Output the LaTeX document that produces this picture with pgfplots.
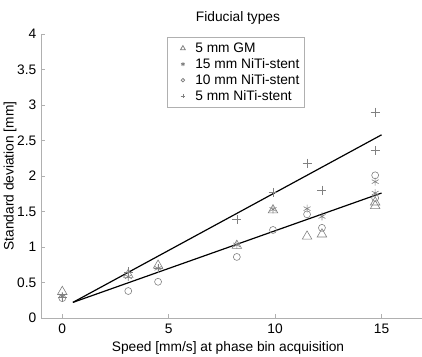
\documentclass[border=0pt]{standalone}
\usepackage{pgfplots}
\pgfplotsset{compat=1.18}
\usepackage{fontspec}
\setmainfont{Liberation Sans}
\definecolor{mk}{HTML}{808080}
\definecolor{ax}{HTML}{B0B0B0}
\begin{document}
\fontsize{13.8}{16.5}\selectfont
\begin{tikzpicture}
\pgfplotsset{lg/.style={legend image code/.code={\draw[mark options={scale=0.5}] plot coordinates {(12bp,0bp)}; \path (0bp,0bp) (22bp,0bp);}}}
\begin{axis}[name=ax,
  scale only axis, width=381bp, height=284bp,
  xmin=-1, xmax=16.9, ymin=0, ymax=4,
  axis x line*=bottom, axis y line*=left,
  axis line style={ax, line width=0.8pt, -},
  xtick={0,5,10,15}, ytick={0,0.5,...,4},
  yticklabels={0,0.5,1,1.5,2,2.5,3,3.5,4},
  tick align=inside, major tick length=4bp,
  tick style={ax, line width=0.8pt},
  /pgf/number format/assume math mode=true,
  ticklabel style={font=\fontsize{13.8}{16.5}\selectfont},
  xticklabel style={yshift=-1bp},
  clip=false,
  legend style={at={(0.331,0.989)}, anchor=north west, draw=ax, line width=0.8pt,
    font=\fontsize{13.8}{16.5}\selectfont, row sep=0bp, inner xsep=3bp, inner ysep=3bp},
  legend cell align=left,
]
\addplot[only marks, lg, mark=triangle, mark size=5.5pt, mk, mark options={line width=0.6pt}] coordinates {
(0,0.37)(3.1,0.61)(4.5,0.74)(8.2,1.02)(9.9,1.52)(11.5,1.15)(12.2,1.18)(14.7,1.58)(14.7,1.63)};
\addlegendentry{5 mm GM}
\addplot[only marks, lg, mark=asterisk, mark size=4pt, mk, mark options={line width=0.6pt}] coordinates {
(0,0.31)(3.1,0.58)(4.5,0.70)(8.2,1.03)(9.9,1.53)(11.5,1.54)(12.2,1.43)(14.7,1.92)(14.7,1.76)};
\addlegendentry{15 mm NiTi-stent}
\addplot[only marks, lg, mark=o, mark size=3.5pt, mk, mark options={line width=0.6pt}] coordinates {
(0,0.28)(3.1,0.38)(4.5,0.51)(8.2,0.86)(9.9,1.24)(11.5,1.46)(12.2,1.27)(14.7,2.01)(14.7,1.69)};
\addlegendentry{10 mm NiTi-stent}
\addplot[only marks, lg, mark=+, mark size=4.5pt, mk, mark options={line width=0.6pt}] coordinates {
(0,0.29)(3.1,0.65)(4.5,0.70)(8.2,1.39)(9.9,1.77)(11.5,2.18)(12.2,1.80)(14.7,2.36)(14.7,2.90)};
\addlegendentry{5 mm NiTi-stent}
\addplot[black, line width=1.2pt, forget plot] coordinates {(0.5,0.22)(15,1.76)};
\addplot[black, line width=1.2pt, forget plot] coordinates {(0.5,0.22)(15,2.58)};
\end{axis}
\node at ([xshift=197bp, yshift=300bp]ax.south west) {Fiducial types};
\node[rotate=90] at ([xshift=-31bp]ax.west) {Standard deviation [mm]};
\node at ([xshift=187bp, yshift=-30bp]ax.south west) {Speed [mm/s] at phase bin acquisition};
\pgfresetboundingbox
\path ([xshift=-41bp,yshift=-39bp]ax.south west) rectangle ([xshift=381bp,yshift=318bp]ax.south west);
\end{tikzpicture}
\end{document}
